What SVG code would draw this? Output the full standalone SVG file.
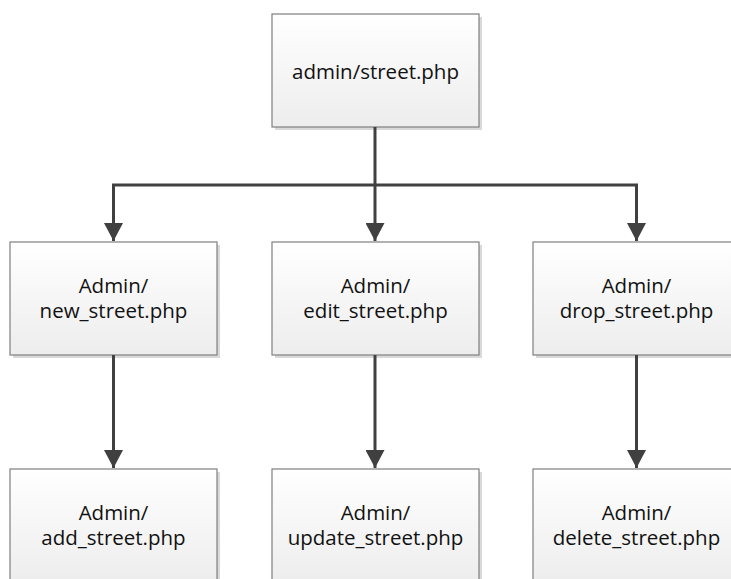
<svg xmlns="http://www.w3.org/2000/svg" width="731" height="579" viewBox="0 0 731 579">
<defs>
<linearGradient id="g" x1="0" y1="0" x2="0" y2="1">
<stop offset="0" stop-color="#ffffff"/>
<stop offset="1" stop-color="#ededed"/>
</linearGradient>
<marker id="ah" markerUnits="userSpaceOnUse" markerWidth="19" markerHeight="19" viewBox="0 0 19 19" refX="18" refY="9.5" orient="auto">
<path d="M0,0 L18,9.5 L0,19 Z" fill="#404040"/>
</marker>
</defs>
<style>
.sh{fill:#d9d9d9;}
.bx{fill:url(#g);stroke:#7f7f7f;stroke-width:1.2;}
.t{font-family:"Open Sans","Noto Sans",sans-serif;font-size:20.5px;fill:#111;text-anchor:middle;}
.c{fill:none;stroke:#404040;stroke-width:3;}
</style>
<rect width="731" height="579" fill="#ffffff"/>
<g id="n0">
<rect class="sh" x="275" y="17" width="207" height="113"/>
<rect class="bx" x="272" y="14" width="207" height="113"/>
<text class="t" x="375.5" y="79">admin/street.php</text>
</g>
<g id="n1">
<rect class="sh" x="13" y="245" width="207" height="113"/>
<rect class="bx" x="10" y="242" width="207" height="113"/>
<text class="t" x="113.5" y="293">Admin/</text>
<text class="t" x="113.5" y="318">new_street.php</text>
</g>
<g id="n2">
<rect class="sh" x="275" y="245" width="207" height="113"/>
<rect class="bx" x="272" y="242" width="207" height="113"/>
<text class="t" x="375.5" y="293">Admin/</text>
<text class="t" x="375.5" y="318">edit_street.php</text>
</g>
<g id="n3">
<rect class="sh" x="536" y="245" width="207" height="113"/>
<rect class="bx" x="533" y="242" width="207" height="113"/>
<text class="t" x="636.5" y="293">Admin/</text>
<text class="t" x="636.5" y="318">drop_street.php</text>
</g>
<g id="n4">
<rect class="sh" x="13" y="472" width="207" height="113"/>
<rect class="bx" x="10" y="469" width="207" height="113"/>
<text class="t" x="113.5" y="520">Admin/</text>
<text class="t" x="113.5" y="545">add_street.php</text>
</g>
<g id="n5">
<rect class="sh" x="275" y="472" width="207" height="113"/>
<rect class="bx" x="272" y="469" width="207" height="113"/>
<text class="t" x="375.5" y="520">Admin/</text>
<text class="t" x="375.5" y="545">update_street.php</text>
</g>
<g id="n6">
<rect class="sh" x="536" y="472" width="207" height="113"/>
<rect class="bx" x="533" y="469" width="207" height="113"/>
<text class="t" x="636.5" y="520">Admin/</text>
<text class="t" x="636.5" y="545">delete_street.php</text>
</g>
<g id="connectors">
<path class="c" d="M375,127 V241" marker-end="url(#ah)"/>
<path class="c" d="M375,185 H113.5 V241" marker-end="url(#ah)"/>
<path class="c" d="M375,185 H636.5 V241" marker-end="url(#ah)"/>
<path class="c" d="M113.5,355 V468" marker-end="url(#ah)"/>
<path class="c" d="M375,355 V468" marker-end="url(#ah)"/>
<path class="c" d="M636.5,355 V468" marker-end="url(#ah)"/>
</g>
</svg>
